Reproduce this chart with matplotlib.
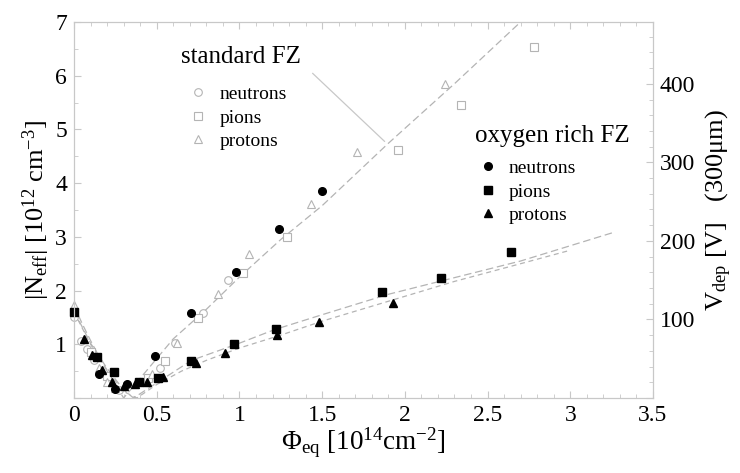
import numpy as np
import matplotlib
matplotlib.use('Agg')
import matplotlib.pyplot as plt
from matplotlib.ticker import MultipleLocator, FuncFormatter
from matplotlib.lines import Line2D

plt.rcParams['font.family'] = ['Liberation Serif', 'DejaVu Serif']
plt.rcParams['mathtext.fontset'] = 'custom'
plt.rcParams['mathtext.rm'] = 'Liberation Serif'
plt.rcParams['mathtext.it'] = 'Liberation Serif:italic'
plt.rcParams['mathtext.default'] = 'regular'

# standard FZ (open grey markers)
std_n_x = [0.0, 0.04, 0.08, 0.12, 0.27, 0.52, 0.61, 0.78, 0.93]
std_n_y = [1.51, 1.07, 0.92, 0.71, 0.15, 0.55, 1.02, 1.58, 2.20]
std_pi_x = [0.10, 0.20, 0.45, 0.55, 0.75, 1.02, 1.29, 1.96, 2.34, 2.78]
std_pi_y = [0.85, 0.40, 0.38, 0.68, 1.48, 2.33, 3.00, 4.62, 5.46, 6.54]
std_p_x = [0.0, 0.15, 0.20, 0.25, 0.47, 0.62, 0.87, 1.06, 1.43, 1.71, 2.24]
std_p_y = [1.73, 0.55, 0.30, 0.18, 0.45, 1.02, 1.94, 2.68, 3.61, 4.57, 5.85]

# oxygen rich FZ (filled black markers)
oxy_n_x = [0.0, 0.15, 0.25, 0.32, 0.49, 0.71, 0.98, 1.24, 1.50]
oxy_n_y = [1.60, 0.45, 0.16, 0.26, 0.79, 1.58, 2.35, 3.14, 3.85]
oxy_pi_x = [0.0, 0.14, 0.24, 0.39, 0.51, 0.71, 0.97, 1.22, 1.86, 2.22, 2.64]
oxy_pi_y = [1.60, 0.77, 0.49, 0.30, 0.37, 0.69, 1.00, 1.28, 1.97, 2.24, 2.71]
oxy_p_x = [0.06, 0.11, 0.17, 0.23, 0.30, 0.37, 0.44, 0.54, 0.74, 0.91, 1.23, 1.48, 1.93]
oxy_p_y = [1.09, 0.80, 0.52, 0.29, 0.22, 0.26, 0.29, 0.39, 0.65, 0.84, 1.17, 1.42, 1.76]

# fit curves
std_fit_x = [0.0, 0.05, 0.1, 0.15, 0.2, 0.25, 0.3, 0.45, 0.6, 0.8, 1.0, 1.25, 1.5, 1.9, 2.3, 2.7]
std_fit_y = [1.72, 1.38, 1.07, 0.78, 0.50, 0.25, 0.0, 0.55, 1.10, 1.65, 2.25, 2.95, 3.58, 4.74, 5.85, 7.0]
oxy_fit1_x = [0.0, 0.1, 0.2, 0.3, 0.36, 0.45, 0.57, 0.71, 1.0, 1.21, 1.5, 1.9, 2.3, 2.7, 3.27]
oxy_fit1_y = [1.62, 1.02, 0.55, 0.15, 0.0, 0.18, 0.42, 0.70, 1.02, 1.27, 1.55, 1.93, 2.24, 2.55, 3.09]
oxy_fit2_x = [0.0, 0.1, 0.2, 0.3, 0.38, 0.5, 0.65, 0.8, 1.0, 1.25, 1.5, 1.9, 2.3, 2.7, 3.0]
oxy_fit2_y = [1.60, 1.00, 0.52, 0.12, 0.0, 0.25, 0.50, 0.70, 0.93, 1.17, 1.43, 1.80, 2.17, 2.50, 2.75]

names = ['neutrons', 'pions', 'protons']

# Neff -> Vdep for 300 um
v_per_neff = 68.4

grey = '#b4b4b4'
spine_c = '#c8c8c8'

fig = plt.figure(figsize=(7.4, 4.73), dpi=100)
ax = fig.add_axes([0.1, 0.1586, 0.7824, 0.795])

ax.plot(std_fit_x, std_fit_y, ls=(0, (6, 3)), color=grey, lw=0.9)
ax.plot(oxy_fit1_x, oxy_fit1_y, ls=(0, (6, 3)), color=grey, lw=0.9)
ax.plot(oxy_fit2_x, oxy_fit2_y, ls=(0, (4, 3)), color=grey, lw=0.9)

ms = 5.5
ax.plot(std_n_x, std_n_y, 'o', mfc='white', mec=grey, ms=ms, mew=0.8, ls='none', clip_on=False)
ax.plot(std_pi_x, std_pi_y, 's', mfc='white', mec=grey, ms=ms, mew=0.8, ls='none', clip_on=False)
ax.plot(std_p_x, std_p_y, '^', mfc='white', mec=grey, ms=ms, mew=0.8, ls='none', clip_on=False)
ax.plot(oxy_n_x, oxy_n_y, 'o', color='black', ms=ms, ls='none', clip_on=False)
ax.plot(oxy_pi_x, oxy_pi_y, 's', color='black', ms=ms, ls='none', clip_on=False)
ax.plot(oxy_p_x, oxy_p_y, '^', color='black', ms=ms, ls='none', clip_on=False)

ax.set_xlim(0, 3.5)
ax.set_ylim(0, 7)
ax.xaxis.set_major_locator(MultipleLocator(0.5))
ax.xaxis.set_minor_locator(MultipleLocator(0.1))
ax.yaxis.set_major_locator(MultipleLocator(1))
ax.yaxis.set_minor_locator(MultipleLocator(0.5))
ax.xaxis.set_major_formatter(FuncFormatter(lambda v, p: '%g' % v))
ax.yaxis.set_major_formatter(FuncFormatter(lambda v, p: '' if v == 0 else '%g' % v))
ax.tick_params(which='both', direction='in', top=True, right=False, color=spine_c, labelsize=17)
ax.tick_params(which='major', length=5, pad=5)
ax.tick_params(which='minor', length=3)
for s in ax.spines.values():
    s.set_color(spine_c)

ax.set_xlabel(r'$\Phi_{eq}$ [10$^{14}$cm$^{-2}$]', fontsize=19.5, labelpad=0)
ax.set_ylabel(r'|N$_{eff}$| [10$^{12}$ cm$^{-3}$]', fontsize=19, labelpad=2)

ax2 = ax.twinx()
ax2.set_ylim(0, 7 * v_per_neff)
ax2.yaxis.set_major_locator(MultipleLocator(100))
ax2.yaxis.set_minor_locator(MultipleLocator(20))
ax2.yaxis.set_major_formatter(FuncFormatter(lambda v, p: '' if v == 0 else '%g' % v))
ax2.tick_params(which='both', direction='in', color=spine_c, labelsize=17)
ax2.tick_params(which='major', length=5, pad=5)
ax2.tick_params(which='minor', length=3)
for s in ax2.spines.values():
    s.set_color(spine_c)
ax2.set_ylabel(r'V$_{dep}$ [V]   (300$\mu$m)', fontsize=19, labelpad=6)

# group titles
ax.text(0.185, 0.907, 'standard FZ', transform=ax.transAxes, fontsize=18,
        ha='left', va='center')
ax.text(0.6926, 0.697, 'oxygen rich FZ', transform=ax.transAxes, fontsize=18,
        ha='left', va='center')

# legends
h_std = [Line2D([], [], marker=m, ls='none', mfc='white', mec=grey, ms=ms, mew=0.8) for m in 'os^']
h_oxy = [Line2D([], [], marker=m, ls='none', color='black', ms=ms) for m in 'os^']

leg_kw = dict(loc='center left', frameon=False, fontsize=14, handlelength=1.3,
              handletextpad=0.45, labelspacing=0.3, borderpad=0, borderaxespad=0)
leg1 = ax.legend(h_std, names, bbox_to_anchor=(0.192, 0.745), **leg_kw)
ax.add_artist(leg1)
ax.legend(h_oxy, names, bbox_to_anchor=(0.6925, 0.548), **leg_kw)

# leader line from the label to the standard FZ fit
ax.annotate('', xy=(1.89, 4.74), xytext=(1.43, 6.08),
            arrowprops=dict(arrowstyle='-', color=spine_c, lw=0.9))

fig.savefig('out.png', dpi=100)
